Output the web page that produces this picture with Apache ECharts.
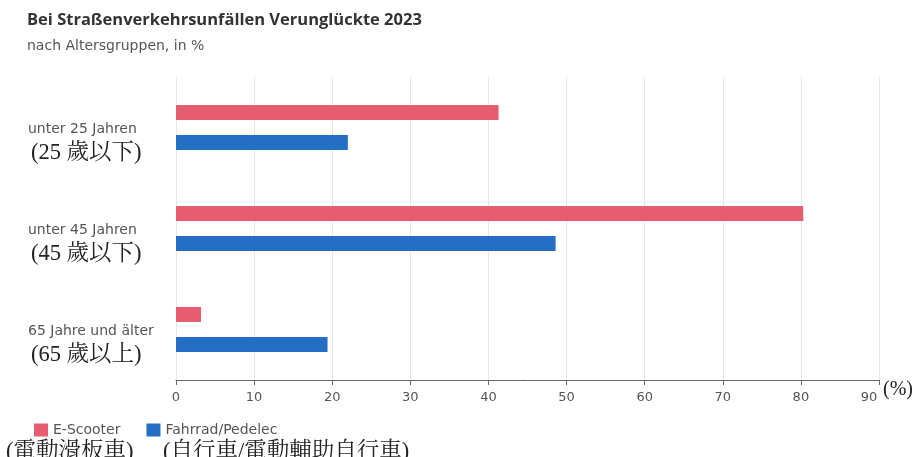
<!DOCTYPE html>
<html><head><meta charset="utf-8">
<script src="https://cdn.jsdelivr.net/npm/echarts@6/dist/echarts.min.js"></script>
<style>html,body{margin:0;padding:0;background:#fff}#c{width:915px;height:457px}</style>
</head><body><div id="c"></div>
<script>
var categoriesDe = ['unter 25 Jahren', 'unter 45 Jahren', '65 Jahre und älter'];
var categoriesZh = ['(25 歲以下)', '(45 歲以下)', '(65 歲以上)'];
var seriesNames = ['E-Scooter', 'Fahrrad/Pedelec'];
var seriesNamesZh = ['(電動滑板車)', '(自行車/電動輔助自行車)'];
var eScooter = [41.3, 80.3, 3.2];
var fahrrad = [22.0, 48.6, 19.4];
var xTicks = [0, 10, 20, 30, 40, 50, 60, 70, 80, 90];

var chart = echarts.init(document.getElementById('c'));
var serifCJK = '"Liberation Serif","Noto Serif CJK TC","Noto Sans CJK TC",serif';
var sans = '"Open Sans","Noto Sans",sans-serif';
var wide = '"DejaVu Sans","Noto Sans",sans-serif';
chart.setOption({
  animation: false,
  title: {
    text: 'Bei Straßenverkehrsunfällen Verunglückte 2023',
    subtext: 'nach Altersgruppen, in %',
    left: 22, top: 7,
    itemGap: 10,
    textStyle: {fontFamily: sans, fontSize: 16.5, fontWeight: 'bold', color: '#333'},
    subtextStyle: {fontFamily: wide, fontSize: 14, color: '#555'}
  },
  legend: {
    left: 29, top: 418,
    itemWidth: 14, itemHeight: 13, itemGap: 26,
    icon: 'rect',
    textStyle: {fontFamily: wide, fontSize: 14, color: '#555'},
    data: seriesNames
  },
  graphic: [
    {type: 'text', left: 6, top: 441, style: {text: seriesNamesZh[0], font: '22.5px ' + serifCJK, fill: '#222'}},
    {type: 'text', left: 163, top: 441, style: {text: seriesNamesZh[1], font: '22.5px ' + serifCJK, fill: '#222'}}
  ],
  grid: {left: 176, right: 36, top: 77, bottom: 77, outerBoundsMode: 'none', containLabel: false},
  xAxis: {
    type: 'value', min: 0, max: 90, interval: 10,
    name: '(%)', nameLocation: 'end', nameGap: 4, nameMoveOverlap: false,
    nameTextStyle: {fontFamily: serifCJK, fontSize: 20, color: '#222', align: 'left', verticalAlign: 'top', padding: [0, 0, 0, 0]},
    axisLine: {show: true, lineStyle: {color: '#666', width: 1}},
    axisTick: {show: true, length: 5, lineStyle: {color: '#666'}},
    axisLabel: {margin: 11, fontFamily: wide, fontSize: 13, color: '#555',
      formatter: function (v) {
        if (xTicks.indexOf(v) < 0) return '';
        return v === xTicks[xTicks.length - 1] ? '{r|' + v + '}' : String(v);
      },
      rich: {r: {fontFamily: wide, fontSize: 13, color: '#555', padding: [0, 20, 0, 0]}}
    },
    splitLine: {show: true, lineStyle: {color: '#e6e6e6', width: 1}}
  },
  yAxis: {
    type: 'category', inverse: true,
    data: categoriesDe,
    axisLine: {show: false}, axisTick: {show: false},
    axisLabel: {
      margin: 148, align: 'left',
      padding: [31, 0, 0, 0],
      formatter: function (v, i) { return '{a|' + v + '}\n{b|' + categoriesZh[i] + '}'; },
      rich: {
        a: {fontFamily: wide, fontSize: 14, color: '#555', lineHeight: 20},
        b: {fontFamily: serifCJK, fontSize: 22.5, color: '#222', lineHeight: 27, padding: [0, 0, 0, 3]}
      }
    }
  },
  series: [
    {name: seriesNames[0], type: 'bar', data: eScooter, barWidth: 15, barGap: '100%', itemStyle: {color: '#e65d70'}},
    {name: seriesNames[1], type: 'bar', data: fahrrad, barWidth: 15, barGap: '100%', itemStyle: {color: '#246ec3'}}
  ]
});
</script></body></html>
